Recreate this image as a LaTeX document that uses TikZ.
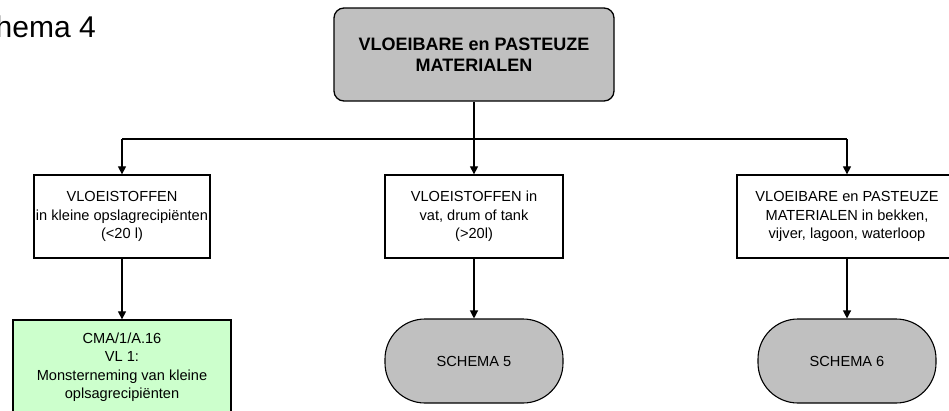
\documentclass[tikz,border=0pt]{standalone}
\usepackage{fontspec}
\setmainfont{Liberation Sans}
\usetikzlibrary{arrows.meta}
\definecolor{boxgray}{HTML}{C0C0C0}
\definecolor{boxgreen}{HTML}{CCFFCC}
\tikzset{
  lbl/.style={font=\fontsize{14.6}{18.5}\selectfont, align=center},
  plainbox/.style={draw=black, line width=1.3pt, fill=white, minimum height=83pt, inner sep=0pt, lbl},
  topbox/.style={draw=black, line width=1.3pt, fill=boxgray, rounded corners=10pt, minimum width=280pt, minimum height=93pt, inner sep=0pt, align=center, font=\fontsize{18}{20.5}\selectfont\bfseries},
  greenbox/.style={draw=black, line width=1.3pt, fill=boxgreen, minimum width=218pt, minimum height=94pt, inner sep=0pt, lbl},
  termbox/.style={draw=black, line width=1.1pt, fill=boxgray, rounded corners=40pt, minimum width=178pt, minimum height=84pt, inner sep=0pt, lbl},
  conn/.style={draw=black, line width=1.2pt},
  arr/.style={conn, -{Triangle[width=8pt,length=8pt]}}
}
\begin{document}
\begin{tikzpicture}[x=1pt,y=-1pt]
\useasboundingbox (0,0) rectangle (949,410);
\clip (0,0) rectangle (949,410);
\node[anchor=base east, font=\fontsize{30}{34}\selectfont, inner sep=0pt] (title) at (96,37) {Schema 4};
\node[topbox] (top) at (474,54.5) {VLOEIBARE en PASTEUZE\\MATERIALEN};
\node[plainbox, minimum width=176pt] (b1) at (122,216.5) {VLOEISTOFFEN\\in kleine opslagrecipiënten\\(<20 l)};
\node[plainbox, minimum width=178pt] (b2) at (474,216.5) {VLOEISTOFFEN in\\vat, drum of tank\\(>20l)};
\node[plainbox, minimum width=220pt] (b3) at (847,216.5) {VLOEIBARE en PASTEUZE\\MATERIALEN in bekken,\\vijver, lagoon, waterloop};
\node[greenbox] (g1) at (122,367) {CMA/1/A.16\\VL 1:\\Monsterneming van kleine\\oplsagrecipiënten};
\node[termbox] (s5) at (474,361) {SCHEMA 5};
\node[termbox] (s6) at (847,361) {SCHEMA 6};
\coordinate (hub) at (474,139);
\coordinate (hl) at (122,139);
\coordinate (hr) at (847,139);
\draw[conn] (top.south) -- (hub);
\draw[conn] (hl) -- (hr);
\draw[arr] (hl) -- (b1.north);
\draw[arr] (hub) -- (b2.north);
\draw[arr] (hr) -- (b3.north);
\draw[arr] (b1.south) -- (g1.north);
\draw[arr] (b2.south) -- (s5.north);
\draw[arr] (b3.south) -- (s6.north);
\end{tikzpicture}
\end{document}
